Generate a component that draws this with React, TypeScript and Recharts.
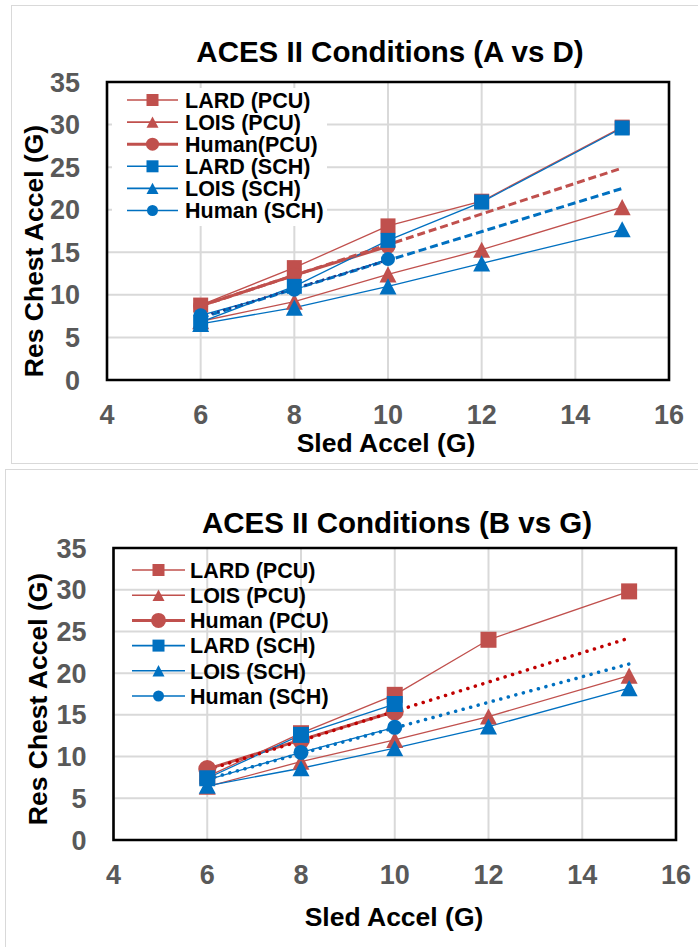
import React from 'react';
import { LineChart, Line, XAxis, YAxis, CartesianGrid, Legend, ReferenceArea } from 'recharts';

const sledAccel = [6, 8, 10, 12, 15];
const xTicks = [4, 6, 8, 10, 12, 14, 16];
const yTicks = [0, 5, 10, 15, 20, 25, 30, 35];

// ACES II Conditions (A vs D)
const lardPcuA = [8.8, 13.2, 18.1, 21.0, 29.7];
const loisPcuA = [6.9, 9.2, 12.4, 15.3, 20.3];
const humanPcuA = [8.7, 12.3, 15.7, null, null];
const lardSchA = [6.8, 11.0, 16.4, 20.9, 29.6];
const loisSchA = [6.6, 8.5, 11.0, 13.7, 17.7];
const humanSchA = [7.6, 10.6, 14.2, null, null];
const pcuTrendA = [8.7, null, null, null, 24.9];
const schTrendA = [7.3, null, null, null, 22.5];
const schDottedA = [7.4, null, 14.1, null, null];

// ACES II Conditions (B vs G)
const lardPcuB = [7.6, 12.8, 17.4, 24.0, 29.8];
const loisPcuB = [6.4, 9.4, 12.0, 14.8, 19.7];
const humanPcuB = [8.5, 12.0, 15.4, null, null];
const lardSchB = [7.4, 12.6, 16.3, null, null];
const loisSchB = [6.5, 8.6, 11.0, 13.6, 18.2];
const humanSchB = [7.2, 10.5, 13.5, null, null];
const pcuTrendB = [8.4, null, null, null, 24.2];
const schTrendB = [7.3, null, null, null, 21.1];

const RED = '#C0504D';
const BLUE = '#0070C0';
const FONT = '"Liberation Sans", Arial, sans-serif';

const buildRows = (cols: Record<string, (number | null)[]>) =>
  sledAccel.map((x, i) => {
    const row: Record<string, number | null> = { x };
    Object.keys(cols).forEach((k) => (row[k] = cols[k][i]));
    return row;
  });

const dataA = buildRows({
  lardPcu: lardPcuA, loisPcu: loisPcuA, humanPcu: humanPcuA,
  lardSch: lardSchA, loisSch: loisSchA, humanSch: humanSchA,
  pcuTrend: pcuTrendA, schTrend: schTrendA, schDotted: schDottedA,
});
const dataB = buildRows({
  lardPcu: lardPcuB, loisPcu: loisPcuB, humanPcu: humanPcuB,
  lardSch: lardSchB, loisSch: loisSchB, humanSch: humanSchB,
  pcuTrend: pcuTrendB, schTrend: schTrendB,
});

const Marker = ({ shape, x, y, size, color }: any) => {
  if (shape === 'square') {
    return <rect x={x - size / 2} y={y - size / 2} width={size} height={size} fill={color} />;
  }
  if (shape === 'triangle') {
    const h = size * 0.95;
    return (
      <polygon
        points={`${x},${y - h / 2} ${x - size / 2},${y + h / 2} ${x + size / 2},${y + h / 2}`}
        fill={color}
      />
    );
  }
  return <circle cx={x} cy={y} r={size / 2} fill={color} />;
};

const dotFor = (id: string, shape: string, size: number, color: string) => (p: any) => {
  if (p.value == null || p.cx == null || p.cy == null) return <g key={`${id}-${p.index}`} />;
  return (
    <g key={`${id}-${p.index}`}>
      <Marker shape={shape} x={p.cx} y={p.cy} size={size} color={color} />
    </g>
  );
};

type SeriesDef = { key: string; name: string; color: string; shape: string; size: number; width: number; legendSize: number };

const makeSeries = (humanPcuName: string, big: boolean): SeriesDef[] => [
  { key: 'lardPcu', name: 'LARD (PCU)', color: RED, shape: 'square', size: big ? 16 : 15, width: 1.3, legendSize: 12 },
  { key: 'loisPcu', name: 'LOIS (PCU)', color: RED, shape: 'triangle', size: 17, width: 1.3, legendSize: 12 },
  { key: 'humanPcu', name: humanPcuName, color: RED, shape: 'circle', size: big ? 18 : 15, width: 3, legendSize: big ? 15 : 13 },
  { key: 'lardSch', name: 'LARD (SCH)', color: BLUE, shape: 'square', size: big ? 16 : 15, width: 1.3, legendSize: 12 },
  { key: 'loisSch', name: 'LOIS (SCH)', color: BLUE, shape: 'triangle', size: 17, width: 1.3, legendSize: 12 },
  { key: 'humanSch', name: 'Human (SCH)', color: BLUE, shape: 'circle', size: big ? 15 : 14, width: 1.3, legendSize: 11 },
];

const LegendBox = ({ series, lineX1, lineX2, textX, rowY, rowGap, width, height }: any) => (
  <svg width={width} height={height} style={{ display: 'block' }}>
    {series.map((s: SeriesDef, i: number) => {
      const y = rowY + i * rowGap;
      return (
        <g key={s.key}>
          <line x1={lineX1} x2={lineX2} y1={y} y2={y} stroke={s.color} strokeWidth={s.width === 3 ? 3 : 1.6} />
          <Marker shape={s.shape} x={(lineX1 + lineX2) / 2} y={y} size={s.legendSize} color={s.color} />
          <text x={textX} y={y} dy="0.36em" fontSize={21.5} fontWeight="bold" fill="#000" fontFamily={FONT}>
            {s.name}
          </text>
        </g>
      );
    })}
  </svg>
);

const tickStyle = { fontSize: 27, fontWeight: 'bold', fill: '#595959', fontFamily: FONT };

const textBase = {
  position: 'absolute' as const, whiteSpace: 'nowrap' as const, fontFamily: FONT,
  fontWeight: 'bold' as const, color: '#000', lineHeight: 1,
};

const Panel = ({ cfg }: any) => {
  const { top, height, frameLeft, data, series, margin, title, titleX, titleY, xTitleX, xTitleY, yTitleX, yTitleY, legend, trendDash, trendCap, trendWidth, pcuTrendColor } = cfg;
  return (
    <div style={{ position: 'absolute', left: 0, top, width: 698, height }}>
      <div
        style={{
          position: 'absolute', left: frameLeft, top: cfg.frameTop, width: 800, height: cfg.frameHeight,
          border: '1.5px solid #d9d9d9', boxSizing: 'border-box',
        }}
      />
      <div style={{ position: 'absolute', left: 0, top: 0 }}>
        <LineChart width={698} height={height} data={data} margin={margin}>
          <CartesianGrid stroke="#d9d9d9" strokeWidth={2} />
          <XAxis
            dataKey="x" type="number" domain={[4, 16]} ticks={xTicks} height={40}
            axisLine={false} tickLine={false} tickMargin={19} tick={tickStyle} interval={0}
          />
          <YAxis
            type="number" domain={[0, 35]} ticks={yTicks} width={70}
            axisLine={false} tickLine={false} tickMargin={21} tick={tickStyle} interval={0}
          />
          <ReferenceArea x1={4} x2={16} y1={0} y2={35} fill="none" fillOpacity={0} stroke="#000" strokeWidth={2.6} ifOverflow="visible" />
          {series.map((s: SeriesDef) => (
            <Line
              key={s.key} dataKey={s.key} stroke={s.color} strokeWidth={s.width}
              dot={dotFor(s.key, s.shape, s.size, s.color)} activeDot={false}
              isAnimationActive={false} connectNulls={false} legendType="none"
            />
          ))}
          <Line
            dataKey="pcuTrend" stroke={pcuTrendColor} strokeWidth={trendWidth} strokeDasharray={trendDash}
            strokeLinecap={trendCap} dot={false} activeDot={false} connectNulls isAnimationActive={false} legendType="none"
          />
          <Line
            dataKey="schTrend" stroke={BLUE} strokeWidth={trendWidth} strokeDasharray={trendDash}
            strokeLinecap={trendCap} dot={false} activeDot={false} connectNulls isAnimationActive={false} legendType="none"
          />
          {cfg.navyDotted && (
            <Line
              dataKey="schDotted" stroke="#1F3A8A" strokeWidth={2.5} strokeDasharray="0.1 6"
              strokeLinecap="round" dot={false} activeDot={false} connectNulls isAnimationActive={false} legendType="none"
            />
          )}
          <Legend
            layout="vertical" align="center" verticalAlign="middle"
            wrapperStyle={{ left: legend.left, top: legend.top, width: legend.width, height: legend.height, background: legend.bg }}
            content={() => <LegendBox series={series} {...legend} />}
          />
        </LineChart>
      </div>
      <div style={{ ...textBase, left: titleX, top: titleY, transform: 'translate(-50%, -50%)', fontSize: 29.5 }}>
        {title}
      </div>
      <div style={{ ...textBase, left: xTitleX, top: xTitleY, transform: 'translate(-50%, -50%)', fontSize: 26.5 }}>
        Sled Accel (G)
      </div>
      <div style={{ ...textBase, left: yTitleX, top: yTitleY, transform: 'translate(-50%, -50%) rotate(-90deg)', fontSize: 26.5 }}>
        Res Chest Accel (G)
      </div>
    </div>
  );
};

const chartA = {
  top: 0, height: 463, frameLeft: 11, frameTop: 5, frameHeight: 459,
  data: dataA, series: makeSeries('Human(PCU)', false),
  margin: { top: 82, right: 29, left: 37, bottom: 43 },
  title: 'ACES II Conditions (A vs D)', titleX: 390, titleY: 52,
  xTitleX: 386, xTitleY: 443, yTitleX: 34, yTitleY: 251,
  legend: { left: 112, top: 88, width: 215, height: 138, bg: '#fff', lineX1: 15, lineX2: 66, textX: 73, rowY: 12, rowGap: 22.1 },
  trendDash: '8 4', trendCap: 'butt', trendWidth: 3, pcuTrendColor: RED, navyDotted: true,
};

const chartB = {
  top: 469, height: 478, frameLeft: 5, frameTop: 0, frameHeight: 500,
  data: dataB, series: makeSeries('Human (PCU)', true),
  margin: { top: 79, right: 22, left: 43.5, bottom: 67 },
  title: 'ACES II Conditions (B vs G)', titleX: 397, titleY: 54,
  xTitleX: 394, xTitleY: 448, yTitleX: 38, yTitleY: 230,
  legend: { left: 128, top: 88, width: 220, height: 166, bg: 'transparent', lineX1: 4, lineX2: 57, textX: 62, rowY: 13, rowGap: 25.2 },
  trendDash: '0.1 7.7', trendCap: 'round', trendWidth: 3.5, pcuTrendColor: '#C00000', navyDotted: false,
};

const App = () => (
  <div style={{ position: 'absolute', left: 0, top: 0, width: 698, height: 947, overflow: 'hidden', background: '#fff' }}>
    <Panel cfg={chartA} />
    <Panel cfg={chartB} />
  </div>
);

export default App;
